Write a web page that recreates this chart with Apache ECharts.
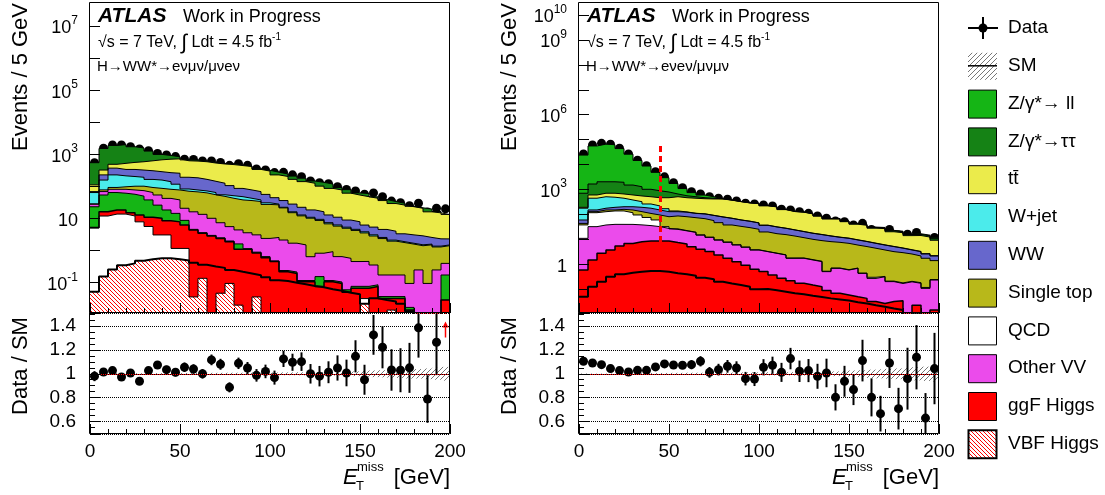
<!DOCTYPE html>
<html>
<head>
<meta charset="utf-8">
<script src="https://cdn.jsdelivr.net/npm/echarts@6.0.0/dist/echarts.min.js"></script>
<style>
  html, body { margin: 0; padding: 0; background: #fff; }
  #main { width: 1105px; height: 495px; }
</style>
</head>
<body>
<div id="main"></div>
<script>
// bins of missing ET, 5 GeV wide
var binLow = [0,5,10,15,20,25,30,35,40,45,50,55,60,65,70,75,80,85,90,95,
              100,105,110,115,120,125,130,135,140,145,150,155,160,165,170,175,180,185,190,195];
var binWidth = 5;

// ---- e-mu / mu-e channel (left) ----
var emVBF  = [0.052,0.155,0.26,0.35,0.40,0.48,0.54,0.58,0.58,0.54,0.49,0.42,0.36,0.32,0.29,0.25,0.22,0.195,0.17,0.147,
              0.12,0.113,0.10,0.089,0.079,0.072,0.063,0.056,0.049,0.044,0.022,0.033,0.029,0.026,0.022,0.013,0.005,0.004,0.004,0.004];
var emQCD  = [5.0,11.8,13.5,13.4,11.6,7.4,5.1,2.5,2.5,0.63,0.68,-0.384,-0.223,-0.32,-0.243,-0.155,-0.2,-0.195,-0.134,-0.147,
              -0.12,-0.113,-0.10,-0.089,-0.079,-0.072,-0.063,-0.056,-0.049,-0.044,0.010,-0.033,-0.029,-0.012,-0.022,-0.013,-0.005,-0.004,-0.004,-0.004];
var emGgF  = [0.2,4.2,4.8,4.8,3.1,5.0,5.4,7.1,5.4,6.7,5.1,4.36,3.33,2.88,2.35,1.8,1.08,1.1,0.81,0.6,
              0.457,0.22,0.195,0.107,0.107,0.076,0.107,0.095,0.05,0.067,0.035,0.076,0.032,0.018,0.032,0.014,0.008,0.008,0.008,0.029];
var emZll  = [18,38,46,43,42,37,27,16,10,6.6,2.5,0.2,0.15,0.1,0.1,0.1,0.52,0.05,0.05,0.05,
              0.02,0.02,0.02,0.01,0.01,0.079,0.01,0.01,0.01,0.01,0.01,0.01,0.005,0.005,0.005,0.003,0.002,0.002,0.002,0.145];
var emOVV  = [4.8,15,17,20,20.6,24,26.6,28,24,23.5,12.1,11.6,9.9,7.2,4.9,3.6,2.8,2.45,2.2,1.75,
              2.09,1.9,1.49,1.39,0.53,0.675,0.81,0.545,0.515,0.38,0.383,0.27,0.137,0.137,0.137,0.078,0.24,0.085,0.24,0.226];
var emST   = [0.5,9,11.4,16,24,28,28,33,39,39.6,50,51.4,49.5,44.8,41.6,37.1,33.6,32.7,30.8,25.1,
              24.1,19.3,13.5,10.6,9.6,7.9,5.9,5.15,4.4,3.8,3.1,2.5,2.2,1.8,1.6,1.5,1.17,1.42,1.05,1.03];
var emWjet = [36,80,136,116,102,91,73,71,59,40,12.4,10,9.4,9.6,6,8.6,9.9,6.4,4.1,3.4,
              1.5,1.0,1.0,0.8,0.7,0.7,0.6,0.5,0.4,0.35,0.3,0.25,0.2,0.15,0.12,0.1,0.1,0.08,0.08,0.08];
var emWW   = [4.5,71,143,125,135,131,143,130,128,140,110,108,94,80,71,55,39,35,31,25.6,
              16.5,13.9,12,9.5,7.6,6.8,5.5,4.7,3.6,3.3,2.4,2.3,2.0,1.9,1.45,1.4,1.37,0.98,0.95,0.81];
var emTT   = [43,95,118,186,223,265,322,388,439,467,438,431,423,392,375,373,360,339,270,245,
              184,168,138,119,107,86,74,66.6,52.7,46,41.7,37.3,31.7,25.3,22.8,20.3,18,13.6,12.7,10.9];
var emZtt  = [438,1203,1410,1480,1166,991,635,320,215,115,42,46,31,27,17,34,22,17,16,17,
              50,40,44,40,22,32,32,15,18,9,12,4.8,2.7,4.5,3.7,0.6,0.7,3.5,1.5,0.2];
var emData = [550,1550,1950,1950,1740,1480,1300,1070,955,850,710,690,620,625,560,455,510,455,350,325,
              270,275,230,200,148,131,121,98,81,72,57,63,48,35,31,25,30,16,21,20];
var emRatio    = [0.98,1.015,1.027,0.973,1.007,0.937,1.027,1.074,1.035,1.013,1.055,1.04,1.0,1.117,1.08,0.886,1.088,1.049,0.987,1.02,
                  0.968,1.125,1.097,1.102,1.0,0.98,1.013,1.049,1.007,1.147,0.95,1.327,1.223,1.032,1.03,1.05,1.386,0.788,1.265,1.6];
var emRatioErr = [0.042,0.026,0.023,0.022,0.024,0.024,0.028,0.033,0.033,0.035,0.04,0.04,0.04,0.045,0.046,0.042,0.048,0.05,0.053,0.057,
                  0.059,0.068,0.072,0.078,0.082,0.086,0.092,0.106,0.112,0.135,0.126,0.167,0.177,0.174,0.185,0.21,0.25,0.2,0.276,0.35];
var emMcErr    = [0.008,0.006,0.005,0.005,0.005,0.005,0.006,0.006,0.006,0.007,0.007,0.007,0.008,0.008,0.008,0.009,0.009,0.01,0.01,0.011,
                  0.011,0.012,0.012,0.013,0.013,0.014,0.014,0.015,0.017,0.02,0.025,0.028,0.03,0.032,0.035,0.04,0.04,0.045,0.05,0.058];

// ---- e-e / mu-mu channel (right) ----
var eeVBF  = [0.05,0.126,0.2,0.32,0.40,0.46,0.5,0.54,0.54,0.5,0.44,0.40,0.35,0.29,0.25,0.2,0.17,0.148,0.126,0.1,
              0.102,0.091,0.08,0.069,0.063,0.055,0.049,0.043,0.039,0.035,0.03,0.027,0.023,0.02,0.017,0.0147,0.005,0.01,0.005,0.008];
var eeGgF  = [0.54,1.35,2.55,3.4,5.0,6.4,7.6,8.1,8.1,8.1,7.0,6.1,4.75,3.7,3.0,2.16,1.57,1.13,0.8,0.53,
              0.41,0.28,0.195,0.15,0.11,0.093,0.078,0.045,0.03,0.024,0.02,0.016,0.009,0.007,0.015,0.02,0.003,0.013,0.003,0.0067];
var eeOVV  = [10.4,30.9,35,36.3,34.6,33,30,27,23.8,18.9,17.7,15.4,13.9,10.8,8.8,7.0,5.9,4.7,3.9,3.1,
              2.7,2.38,2.08,1.52,1.57,1.34,1.15,0.42,0.62,0.53,0.64,0.39,0.24,0.29,0.17,0.135,0.19,0.15,0.1,0.22];
var eeQCD  = [27,85,91,98,98,77,57,40,27.6,4.9,1.2,0.6,0.4,0.3,0.2,0.2,0.15,0.1,0.1,0.1,
              0.05,0.05,0.05,0.05,0.05,0.05,0.05,0.02,0.02,0.02,0.02,0.01,0.03,0.01,0.01,0.01,0.01,0.01,0.01,0.01];
var eeST   = [5.7,12,22,13,22,34,34,34,35,48.6,60.7,58.5,54.6,52.5,44.2,37.2,30,27.2,24.6,21.5,
              16.55,14.1,13.1,11.8,9.9,8.5,7.57,7.57,6.9,6.3,5.2,4.7,4.1,3.43,3.0,2.75,2.38,1.97,1.63,1.16];
var eeWW   = [16.3,22,27,42,44,53,64,68,56,48,42,42,36,37,34.5,32.1,32,26.5,23.5,20.1,
              16.8,14.5,12.2,10.2,8.7,7.45,6.6,5.5,4.5,4.1,3.5,3.0,2.5,2.15,1.9,1.5,1.16,1.05,0.85,0.75];
var eeWjet = [118,296,335,297,243,176,131,85,68,41,9,3,1.5,1.2,1,1,0.8,0.7,0.6,0.6,
              0.5,0.4,0.4,0.3,0.3,0.25,0.25,0.2,0.2,0.2,0.2,0.15,0.15,0.12,0.1,0.1,0.1,0.08,0.08,0.07];
var eeTT   = [15,156,195,218,214,223,226,250,249,298,375,342,335,321,325,336,303,265.5,236,224.5,
              186,168,128,106,102,87,70,52,53,40,31,28.3,21,21,15,14,10.3,11,9.7,7.0];
var eeZtt  = [515,1057,1330,1330,1290,907,740,507,423,326,148,94,66,41,30,8,4,3,2.5,2.5,
              2.5,2.5,2.5,2,2,2,2,2,2,2,2,2,2,2,1.8,1.7,1.5,1.5,1.5,1.4];
var eeZll  = [23300,54200,63900,60260,41850,24600,13300,7730,3980,2190,1080,529,239,129,62,6,3,2,2,2,
              1.5,1.5,1.5,1.5,1.5,1.5,1.5,1.5,1.4,1.2,1.2,1,1,1,1,1,0.8,1,0.9,0.9];
var eeData = [26500,61000,71000,65000,45000,26500,15000,9000,5150,3230,1870,1170,810,660,515,445,405,347,282,263,
              240,219,162,151,129,111,87,70,55,51,38,44,25,20,25,15,16,19,9,12];
var eeRatio    = [1.105,1.091,1.077,1.044,1.027,1.015,1.029,1.029,1.058,1.083,1.074,1.072,1.077,1.105,1.012,1.035,1.063,1.049,0.959,0.956,
                  1.055,1.072,1.012,1.128,1.021,1.027,0.979,1.007,0.802,0.937,0.867,1.111,0.802,0.665,1.091,0.707,0.959,1.139,0.628,1.044];
var eeRatioErr = [0.007,0.005,0.004,0.005,0.005,0.007,0.009,0.011,0.015,0.019,0.025,0.031,0.038,0.043,0.045,0.049,0.053,0.056,0.057,0.059,
                  0.068,0.072,0.08,0.09,0.09,0.097,0.105,0.12,0.11,0.13,0.13,0.175,0.16,0.15,0.21,0.175,0.26,0.27,0.21,0.3];
var eeMcErr    = [0.003,0.002,0.002,0.002,0.002,0.003,0.004,0.005,0.006,0.007,0.008,0.008,0.009,0.009,0.01,0.01,0.011,0.011,0.012,0.012,
                  0.013,0.013,0.014,0.014,0.015,0.015,0.016,0.018,0.02,0.025,0.028,0.03,0.035,0.038,0.042,0.045,0.05,0.055,0.06,0.065];
var eeCut = { x: 45, from: 7.9, to: 74000 };

// axis settings (top panels are drawn in log10 space)
var emLogRange = [-1.944, 7.717];
var eeLogRange = [-1.953, 10.48];
var emPowLabels = [-1, 1, 3, 5, 7];
var eePowLabels = [0, 3, 6, 9, 10];
var ratioRange = [0.494, 1.511];

var FONT = 'Liberation Sans';
var colors = {
  Zll: '#15b515', Ztt: '#158215', TT: '#ebeb4b', Wjet: '#4bebeb', WW: '#6767cc',
  ST: '#b8b81a', QCD: '#ffffff', OVV: '#eb4beb', GgF: '#ff0000'
};

function hatch(color, bg, size, dir) {
  var c = document.createElement('canvas');
  c.width = size; c.height = size;
  var g = c.getContext('2d');
  if (bg) { g.fillStyle = bg; g.fillRect(0, 0, size, size); }
  g.strokeStyle = color; g.lineWidth = 1;
  g.beginPath();
  for (var k = -1; k <= 1; k++) {
    if (dir > 0) { g.moveTo(k * size, size); g.lineTo(k * size + size, 0); }
    else { g.moveTo(k * size, 0); g.lineTo(k * size + size, size); }
  }
  g.stroke();
  return { image: c, repeat: 'repeat' };
}
var vbfHatch = hatch('#ff0000', null, 4, -1);
var vbfHatchBox = hatch('#ff0000', '#ffffff', 4, -1);
var smHatch = hatch('#777777', null, 5, 1);

function lg(v) { return v > 0 ? Math.max(Math.log10(v), -4) : -4; }

// stacked histogram: layers bottom-up, painted top-down, each filled to the axis floor
function stackSeries(layers, idx) {
  var totals = [];
  var run = binLow.map(function () { return 0; });
  layers.forEach(function (l) {
    run = run.map(function (r, i) { return r + l.values[i]; });
    totals.push(run);
  });
  var out = [];
  for (var k = layers.length - 1; k >= 0; k--) {
    var pts = binLow.map(function (x, i) { return [x, lg(totals[k][i])]; });
    pts.push([binLow[binLow.length - 1] + binWidth, pts[pts.length - 1][1]]);
    out.push({
      type: 'line', name: layers[k].name, xAxisIndex: idx, yAxisIndex: idx,
      step: 'end', symbol: 'none', showSymbol: false, silent: true, data: pts,
      lineStyle: { color: '#000', width: layers[k].lw || 1 },
      areaStyle: { color: layers[k].fill, opacity: 1, origin: 'start' }
    });
  }
  return out;
}

function dataSeries(values, idx) {
  return {
    type: 'scatter', xAxisIndex: idx, yAxisIndex: idx, silent: true,
    symbolSize: 9, itemStyle: { color: '#000', opacity: 1 },
    data: values.map(function (v, i) { return [binLow[i] + binWidth / 2, lg(v)]; })
  };
}

function ratioSeries(ratio, err, mc, idx) {
  var inside = [], over = [];
  ratio.forEach(function (r, i) {
    var x = binLow[i] + binWidth / 2;
    if (r > ratioRange[1]) over.push([x, r]);
    else inside.push([x, r, err[i]]);
  });
  return [
    { // MC statistical band
      type: 'custom', xAxisIndex: idx, yAxisIndex: idx, silent: true,
      data: binLow.map(function (x, i) { return [x, mc[i]]; }),
      renderItem: function (params, api) {
        var x0 = api.value(0), e = api.value(1);
        var a = api.coord([x0, 1 + e]), b = api.coord([x0 + binWidth, 1 - e]);
        return { type: 'rect', shape: { x: a[0], y: a[1], width: b[0] - a[0], height: b[1] - a[1] },
                 style: { fill: smHatch } };
      },
      markLine: { silent: true, symbol: 'none', label: { show: false },
                  lineStyle: { color: '#ff0000', width: 1, type: 'solid' }, data: [{ yAxis: 1 }] }
    },
    { // error bars
      type: 'custom', xAxisIndex: idx, yAxisIndex: idx, silent: true, data: inside,
      renderItem: function (params, api) {
        var x = api.value(0), y = api.value(1), e = api.value(2);
        var cs = params.coordSys;
        var a = api.coord([x, y + e]), b = api.coord([x, y - e]);
        var top = Math.max(a[1], cs.y), bot = Math.min(b[1], cs.y + cs.height);
        if (bot <= top) return;
        return { type: 'line', shape: { x1: a[0], y1: top, x2: a[0], y2: bot },
                 style: { stroke: '#000', lineWidth: 2 } };
      }
    },
    {
      type: 'scatter', xAxisIndex: idx, yAxisIndex: idx, silent: true, symbolSize: 9,
      itemStyle: { color: '#000', opacity: 1 },
      data: inside.map(function (p) { return [p[0], p[1]]; })
    },
    { // off-scale arrows
      type: 'custom', xAxisIndex: idx, yAxisIndex: idx, silent: true, data: over,
      renderItem: function (params, api) {
        var x = api.value(0);
        var a = api.coord([x, ratioRange[1] - 0.206]), b = api.coord([x, ratioRange[1] - 0.071]);
        return { type: 'group', children: [
          { type: 'line', shape: { x1: a[0], y1: a[1], x2: b[0], y2: b[1] + 4 }, style: { stroke: '#ff0000', lineWidth: 1.5 } },
          { type: 'polygon', shape: { points: [[b[0] - 3, b[1] + 6], [b[0] + 3, b[1] + 6], [b[0], b[1]]] }, style: { fill: '#ff0000' } }
        ] };
      }
    }
  ];
}

var emLayers = [
  { name: 'VBF Higgs', values: emVBF, fill: vbfHatch, lw: 2 },
  { name: 'QCD', values: emQCD, fill: colors.QCD },
  { name: 'ggF Higgs', values: emGgF, fill: colors.GgF, lw: 1.5 },
  { name: 'Z->ll', values: emZll, fill: colors.Zll },
  { name: 'Other VV', values: emOVV, fill: colors.OVV },
  { name: 'Single top', values: emST, fill: colors.ST },
  { name: 'W+jet', values: emWjet, fill: colors.Wjet },
  { name: 'WW', values: emWW, fill: colors.WW },
  { name: 'ttbar', values: emTT, fill: colors.TT },
  { name: 'Z->tautau', values: emZtt, fill: colors.Ztt }
];
var eeLayers = [
  { name: 'VBF Higgs', values: eeVBF, fill: vbfHatch, lw: 2 },
  { name: 'ggF Higgs', values: eeGgF, fill: colors.GgF, lw: 1.5 },
  { name: 'Other VV', values: eeOVV, fill: colors.OVV },
  { name: 'QCD', values: eeQCD, fill: colors.QCD },
  { name: 'Single top', values: eeST, fill: colors.ST },
  { name: 'WW', values: eeWW, fill: colors.WW },
  { name: 'W+jet', values: eeWjet, fill: colors.Wjet },
  { name: 'ttbar', values: eeTT, fill: colors.TT },
  { name: 'Z->tautau', values: eeZtt, fill: colors.Ztt },
  { name: 'Z->ll', values: eeZll, fill: colors.Zll }
];

var supRich = {
  b: { fontSize: 18, fontFamily: FONT, color: '#000', verticalAlign: 'bottom', padding: [5, 0, 0, 0] },
  s: { fontSize: 12, fontFamily: FONT, color: '#000', verticalAlign: 'top' }
};
function powFormatter(list) {
  return function (v) {
    var r = Math.round(v);
    if (Math.abs(v - r) > 1e-6 || list.indexOf(r) < 0) return '';
    if (r === 0) return '{b|1}';
    if (r === 1) return '{b|10}';
    return '{b|10}{s|' + r + '}';
  };
}

var tickStyle = { color: '#000', width: 1 };
function xAx(gi, labels) {
  return {
    type: 'value', gridIndex: gi, min: 0, max: 200, interval: 50, z: 10,
    axisLine: { show: false, onZero: false },
    axisTick: { show: true, inside: true, length: 10, lineStyle: tickStyle },
    minorTick: { show: true, splitNumber: 5, length: 5, lineStyle: tickStyle },
    axisLabel: { show: labels, fontSize: 19, fontFamily: FONT, color: '#000', margin: 8 },
    splitLine: { show: false }
  };
}
function yLog(gi, range, split, list) {
  return {
    type: 'value', gridIndex: gi, min: range[0], max: range[1], splitNumber: split, z: 10,
    axisLine: { show: false, onZero: false },
    axisTick: { show: true, inside: true, length: 10, lineStyle: tickStyle },
    axisLabel: { margin: 12, showMinLabel: false, showMaxLabel: false, formatter: powFormatter(list), rich: supRich },
    splitLine: { show: false }
  };
}
function yRatio(gi) {
  return {
    type: 'value', gridIndex: gi, min: ratioRange[0], max: ratioRange[1], splitNumber: 5, z: 10,
    axisLine: { show: false, onZero: false },
    axisTick: { show: true, inside: true, length: 10, lineStyle: tickStyle },
    minorTick: { show: true, splitNumber: 4, length: 5, lineStyle: tickStyle },
    axisLabel: { margin: 14, showMinLabel: false, showMaxLabel: false, fontSize: 19, fontFamily: FONT, color: '#000' },
    splitLine: { show: true, lineStyle: { type: 'dotted', color: '#000', width: 1 } }
  };
}

// panel frames and texts
var panelX = [90, 579];
function frame(x, y, w, h) {
  return { type: 'rect', z: 100, silent: true, shape: { x: x - 0.5, y: y - 0.5, width: w, height: h },
           style: { fill: null, stroke: '#000', lineWidth: 1 } };
}
function txt(x, y, text, font, extra) {
  var st = { text: text, font: font + ' "' + FONT + '"', fill: '#000', verticalAlign: 'middle' };
  for (var k in extra) st[k] = extra[k];
  return { type: 'text', x: x, y: y, z: 100, silent: true, style: st };
}
function panelTexts(dx, channel) {
  var out = [
    frame(90 + dx, 3, 360, 310),
    frame(90 + dx, 313, 360, 121),
    txt(98 + dx, 16, 'ATLAS', 'italic bold 21px'),
    txt(183 + dx, 17, 'Work in Progress', '18px'),
    txt(98 + dx, 43, '√s = 7 TeV, {i|∫} Ldt = 4.5 fb{s|-1}', '16px', {
      rich: { i: { fontSize: 21, fontFamily: FONT }, s: { fontSize: 10, fontFamily: FONT, verticalAlign: 'top' } } }),
    txt(97 + dx, 67, channel, '15px'),
    txt(343 + dx, 478, 'E', 'italic 22px'),
    txt(357 + dx, 467, 'miss', '13px'),
    txt(356 + dx, 486, 'T', '13px'),
    txt(450 + dx, 478, '[GeV]', '22px', { align: 'right' })
  ];
  var t1 = txt(21 + dx, 3, 'Events / 5 GeV', '22px', { align: 'right' });
  t1.rotation = Math.PI / 2;
  var t2 = txt(21 + dx, 366, 'Data / SM', '22px', { align: 'center' });
  t2.rotation = Math.PI / 2;
  out.push(t1, t2);
  return out;
}

var legendEntries = [
  { label: 'Data', kind: 'data' },
  { label: 'SM', kind: 'band' },
  { label: 'Z/γ*→ ll', fill: colors.Zll },
  { label: 'Z/γ*→ττ', fill: colors.Ztt },
  { label: 'tt\u0304', fill: colors.TT },
  { label: 'W+jet', fill: colors.Wjet },
  { label: 'WW', fill: colors.WW },
  { label: 'Single top', fill: colors.ST },
  { label: 'QCD', fill: colors.QCD },
  { label: 'Other VV', fill: colors.OVV },
  { label: 'ggF Higgs', fill: colors.GgF },
  { label: 'VBF Higgs', fill: vbfHatchBox, lw: 2 }
];
function legendGraphic() {
  var x0 = 968, box = 28, y0 = 28, step = 37.8;
  var out = [];
  legendEntries.forEach(function (e, k) {
    var cy = y0 + step * k;
    if (e.kind === 'data') {
      out.push({ type: 'line', shape: { x1: x0, y1: cy, x2: x0 + 30, y2: cy }, style: { stroke: '#000', lineWidth: 2 } });
      out.push({ type: 'line', shape: { x1: x0 + 15, y1: cy - 11, x2: x0 + 15, y2: cy + 11 }, style: { stroke: '#000', lineWidth: 2 } });
      out.push({ type: 'circle', shape: { cx: x0 + 15, cy: cy, r: 4.5 }, style: { fill: '#000' } });
    } else if (e.kind === 'band') {
      out.push({ type: 'rect', shape: { x: x0, y: cy - 13, width: box + 1, height: 27 }, style: { fill: smHatch } });
      out.push({ type: 'line', shape: { x1: x0, y1: cy, x2: x0 + box + 1, y2: cy }, style: { stroke: '#000', lineWidth: 1.5 } });
    } else {
      out.push({ type: 'rect', shape: { x: x0 + 0.5, y: cy - box / 2 + 0.5, width: box, height: box },
                 style: { fill: e.fill, stroke: '#000', lineWidth: e.lw || 1 } });
    }
    out.push(txt(x0 + 40, cy, e.label, '19px'));
  });
  return out;
}

var series = []
  .concat(stackSeries(emLayers, 0))
  .concat([dataSeries(emData, 0)])
  .concat(ratioSeries(emRatio, emRatioErr, emMcErr, 1))
  .concat(stackSeries(eeLayers, 2))
  .concat([dataSeries(eeData, 2)])
  .concat(ratioSeries(eeRatio, eeRatioErr, eeMcErr, 3));

// cut marker on the ee/mumu panel
series.push({
  type: 'line', xAxisIndex: 2, yAxisIndex: 2, data: [], silent: true,
  markLine: {
    silent: true, symbol: 'none', label: { show: false },
    lineStyle: { color: '#ff0000', width: 3, type: [6, 4] },
    data: [[{ coord: [eeCut.x, lg(eeCut.from)] }, { coord: [eeCut.x, lg(eeCut.to)] }]]
  }
});

var chart = echarts.init(document.getElementById('main'), null, { renderer: 'canvas' });
chart.setOption({
  animation: false,
  backgroundColor: '#fff',
  textStyle: { fontFamily: FONT },
  grid: [
    { left: panelX[0], top: 3, width: 360, height: 310, outerBoundsMode: 'none' },
    { left: panelX[0], top: 313, width: 360, height: 121, outerBoundsMode: 'none' },
    { left: panelX[1], top: 3, width: 360, height: 310, outerBoundsMode: 'none' },
    { left: panelX[1], top: 313, width: 360, height: 121, outerBoundsMode: 'none' }
  ],
  xAxis: [xAx(0, false), xAx(1, true), xAx(2, false), xAx(3, true)],
  yAxis: [yLog(0, emLogRange, 10, emPowLabels), yRatio(1), yLog(2, eeLogRange, 12, eePowLabels), yRatio(3)],
  series: series,
  graphic: { elements: []
    .concat(panelTexts(0, 'H→WW*→eνμν/μνeν'))
    .concat(panelTexts(panelX[1] - panelX[0], 'H→WW*→eνeν/μνμν'))
    .concat(legendGraphic()) }
});
</script>
</body>
</html>
